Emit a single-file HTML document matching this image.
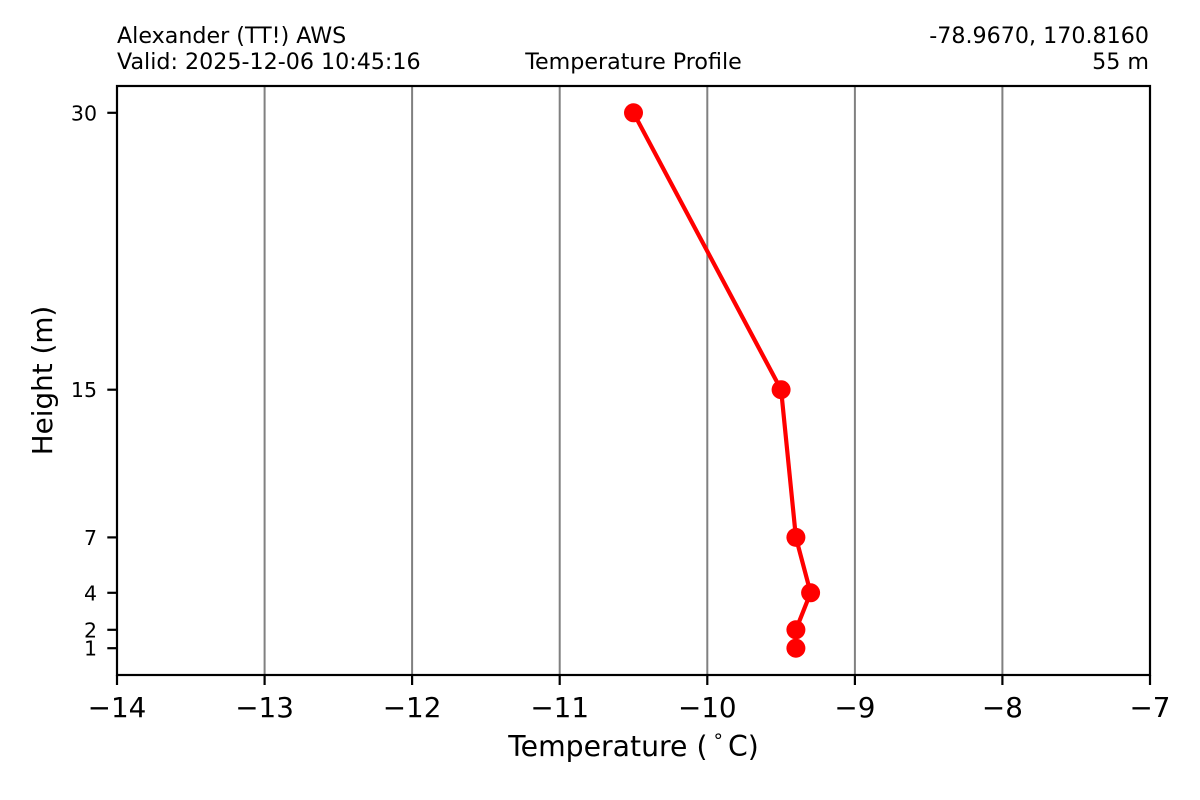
<!DOCTYPE html>
<html>
<head>
<meta charset="utf-8">
<style>
html,body{margin:0;padding:0;background:#fff;}
svg{display:block;}
text{font-family:"DejaVu Sans","Liberation Sans",sans-serif;fill:#000;}
</style>
</head>
<body>
<svg width="1200" height="800" viewBox="0 0 1200 800" xmlns="http://www.w3.org/2000/svg">
<rect x="0" y="0" width="1200" height="800" fill="#fff"/>
<!-- grid -->
<g stroke="#808080" stroke-width="2">
<line x1="264.6" y1="86" x2="264.6" y2="675"/>
<line x1="412.1" y1="86" x2="412.1" y2="675"/>
<line x1="559.7" y1="86" x2="559.7" y2="675"/>
<line x1="707.3" y1="86" x2="707.3" y2="675"/>
<line x1="854.9" y1="86" x2="854.9" y2="675"/>
<line x1="1002.4" y1="86" x2="1002.4" y2="675"/>
</g>
<!-- series -->
<polyline points="633.5,112.8 781.1,389.7 795.9,537.4 810.6,592.8 795.9,629.8 795.9,648.2" fill="none" stroke="#ff0000" stroke-width="4.2" stroke-linejoin="round"/>
<g fill="#ff0000">
<circle cx="633.5" cy="112.8" r="9.5"/>
<circle cx="781.1" cy="389.7" r="9.5"/>
<circle cx="795.9" cy="537.4" r="9.5"/>
<circle cx="810.6" cy="592.8" r="9.5"/>
<circle cx="795.9" cy="629.8" r="9.5"/>
<circle cx="795.9" cy="648.2" r="9.5"/>
</g>
<!-- axes frame -->
<rect x="117" y="86" width="1033" height="589" fill="none" stroke="#000" stroke-width="2.2"/>
<!-- x ticks -->
<g stroke="#000" stroke-width="2.2">
<line x1="117" y1="675" x2="117" y2="685"/>
<line x1="264.6" y1="675" x2="264.6" y2="685"/>
<line x1="412.1" y1="675" x2="412.1" y2="685"/>
<line x1="559.7" y1="675" x2="559.7" y2="685"/>
<line x1="707.3" y1="675" x2="707.3" y2="685"/>
<line x1="854.9" y1="675" x2="854.9" y2="685"/>
<line x1="1002.4" y1="675" x2="1002.4" y2="685"/>
<line x1="1150" y1="675" x2="1150" y2="685"/>
</g>
<!-- y ticks -->
<g stroke="#000" stroke-width="2.2">
<line x1="107.3" y1="112.8" x2="117" y2="112.8"/>
<line x1="107.3" y1="389.7" x2="117" y2="389.7"/>
<line x1="107.3" y1="537.4" x2="117" y2="537.4"/>
<line x1="107.3" y1="592.8" x2="117" y2="592.8"/>
<line x1="107.3" y1="629.8" x2="117" y2="629.8"/>
<line x1="107.3" y1="648.2" x2="117" y2="648.2"/>
</g>
<!-- x tick labels -->
<g font-size="27.8" text-anchor="middle">
<text x="117" y="717">−14</text>
<text x="264.6" y="717">−13</text>
<text x="412.1" y="717">−12</text>
<text x="559.7" y="717">−11</text>
<text x="707.3" y="717">−10</text>
<text x="854.9" y="717">−9</text>
<text x="1002.4" y="717">−8</text>
<text x="1150" y="717">−7</text>
</g>
<!-- y tick labels -->
<g font-size="20.5" text-anchor="end">
<text x="97" y="120.3">30</text>
<text x="97" y="397.2">15</text>
<text x="97" y="544.9">7</text>
<text x="97" y="600.3">4</text>
<text x="97" y="637.3">2</text>
<text x="97" y="655.7">1</text>
</g>
<!-- axis labels -->
<text x="633.5" y="756" font-size="28.3" text-anchor="middle">Temperature (<tspan dx="6" dy="-9" font-size="19">°</tspan><tspan dx="5" dy="9">C)</tspan></text>
<text transform="translate(52,380.5) rotate(-90)" font-size="27.8" text-anchor="middle">Height (m)</text>
<!-- titles -->
<g font-size="22.2">
<text x="117" y="43">Alexander (TT!) AWS</text>
<text x="117" y="69">Valid: 2025-12-06 10:45:16</text>
<text x="633.5" y="69" text-anchor="middle">Temperature Profile</text>
<text x="1149" y="43" text-anchor="end">-78.9670, 170.8160</text>
<text x="1149" y="69" text-anchor="end">55 m</text>
</g>
</svg>
</body>
</html>
